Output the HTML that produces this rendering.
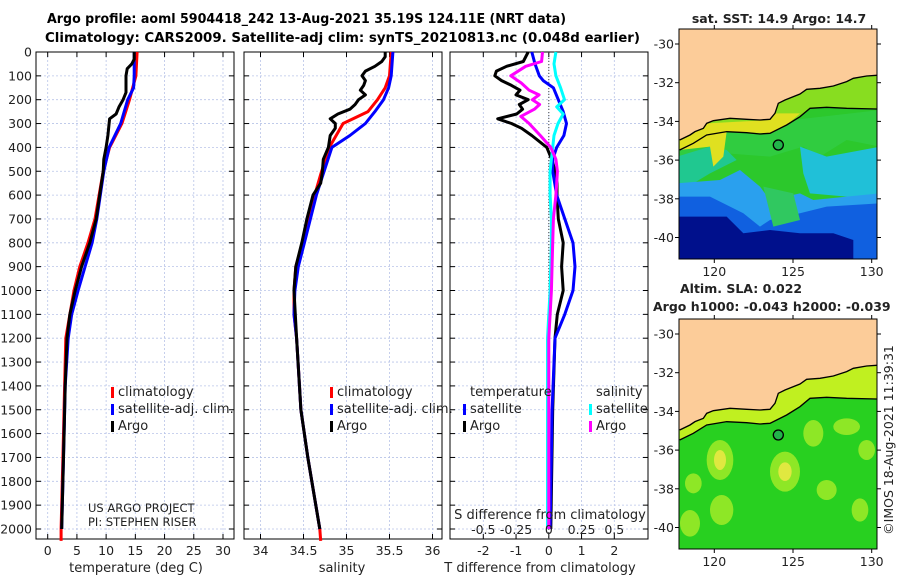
<!DOCTYPE html>
<html><head><meta charset="utf-8">
<style>
body{margin:0;background:#fff;}
svg{display:block;font-family:"DejaVu Sans","Liberation Sans",sans-serif;}
</style></head>
<body>
<svg id="fig" width="900" height="580" viewBox="0 0 900 580">
<g font-weight="bold" font-size="13" fill="#000">
<text x="47" y="23" textLength="519" lengthAdjust="spacingAndGlyphs">Argo profile: aoml 5904418_242 13-Aug-2021 35.19S 124.11E (NRT data)</text>
<text x="45" y="42" textLength="595" lengthAdjust="spacingAndGlyphs">Climatology: CARS2009. Satellite-adj clim: synTS_20210813.nc (0.048d earlier)</text>
</g>
<g id="panels"></g>
<g id="maps"></g>
</svg>
<script>
// ---------- data ----------
const depthTicks = [0,100,200,300,400,500,600,700,800,900,1000,1100,1200,1300,1400,1500,1600,1700,1800,1900,2000];
const tempTicks = [0,5,10,15,20,25,30];
const salTicks = [34,34.5,35,35.5,36];
const tdiffTicks = [-2,-1,0,1,2];
const sdiffTicks = [-0.5,-0.25,0,0.25,0.5];
const sdiffTickLabels = ["-0.5","-0.25","0","0.25","0.5"];

const climTempDepth = [0,100,200,300,400,500,600,700,800,900,1000,1100,1200,1400,1600,1800,2000,2050];
const climTemp = [15.3,15.1,14.0,12.7,10.6,9.5,8.8,8.1,6.9,5.5,4.5,3.8,3.1,2.9,2.7,2.5,2.3,2.3];
const satTempDepth = [0,100,150,200,300,400,500,600,700,800,900,1000,1100,1200,1400,1600,1800,2000];
const satTemp = [14.8,14.8,14.7,13.7,12.5,10.5,9.6,9.0,8.4,7.6,6.4,5.2,4.1,3.5,3.0,2.8,2.6,2.4];
const argoTempDepth = [0,30,50,70,100,170,200,230,260,280,300,350,400,450,500,600,700,800,900,1000,1100,1200,1400,1600,1800,2000];
const argoTemp = [14.8,14.8,14.4,13.6,13.4,13.4,12.9,12.2,11.7,10.6,10.5,10.3,10.0,9.6,9.5,8.9,8.3,7.2,5.8,4.7,3.8,3.3,3.0,2.8,2.6,2.4];

const climSalDepth = [0,100,150,200,250,300,400,500,600,700,800,900,1000,1100,1200,1500,1700,2000,2050];
const climSal = [35.52,35.50,35.45,35.36,35.25,34.96,34.80,34.71,34.63,34.56,34.49,34.41,34.39,34.39,34.42,34.47,34.55,34.69,34.70];
const satSalDepth = [0,100,150,200,250,300,350,400,500,600,700,800,900,1000,1100,1200,1500,1700,2000];
const satSal = [35.54,35.52,35.49,35.43,35.33,35.22,35.04,34.83,34.74,34.65,34.58,34.51,34.44,34.40,34.39,34.42,34.47,34.55,34.69];
const argoSalDepth = [0,20,40,60,80,100,120,140,160,180,200,220,240,260,280,300,320,350,400,450,500,550,600,700,800,900,1000,1200,1500,1700,2000];
const argoSal = [35.45,35.45,35.41,35.33,35.22,35.18,35.22,35.20,35.16,35.22,35.14,35.10,35.04,34.90,34.81,34.87,34.87,34.81,34.79,34.73,34.72,34.70,34.61,34.54,34.48,34.41,34.39,34.42,34.47,34.55,34.69];

const argoTdiffDepth = [0,40,60,80,100,120,140,160,180,200,220,240,260,280,300,320,350,400,450,500,550,600,700,800,900,1000,1100,1200,1500,2000];
const argoTdiff = [-0.63,-0.78,-1.29,-1.6,-1.65,-1.44,-1.14,-0.88,-1.0,-0.63,-0.9,-0.8,-0.98,-1.56,-1.14,-0.83,-0.52,-0.06,0.09,0.2,0.25,0.25,0.29,0.44,0.39,0.44,0.26,0.19,0.12,0.06];
const satTdiffDepth = [0,50,100,120,150,200,250,300,350,400,450,500,600,700,800,900,1000,1100,1200,1500,2000];
const satTdiff = [-0.52,-0.42,-0.29,-0.17,0.14,0.29,0.44,0.54,0.46,0.24,0.12,0.12,0.24,0.49,0.74,0.8,0.74,0.49,0.19,0.1,0.04];
const argoSdiffDepth = [0,40,60,100,130,160,180,200,220,240,270,300,350,400,450,500,550,600,700,800,1000,1200,1500,2000];
const argoSdiff = [-0.048,-0.055,-0.176,-0.29,-0.21,-0.15,-0.074,-0.125,-0.07,-0.11,-0.214,-0.15,-0.065,0.015,0.054,0.066,0.06,0.054,0.035,0.03,0.02,0.0,0.0,0.0];
const satSdiffDepth = [0,50,100,150,200,230,260,300,350,400,500,600,700,800,1000,1200,1500,2000];
const satSdiff = [0.054,0.04,0.054,0.09,0.12,0.06,0.11,0.07,0.04,0.03,0.01,0.01,0.02,0.02,0.01,-0.01,-0.01,-0.01];

// ---------- axes ----------
const NS='http://www.w3.org/2000/svg';
const TOP=52, BOT=539;
function yD(d){return TOP + d*0.2385;}
function xTemp(v){return 47.7 + v*5.843;}
function xSal(v){return 260.5 + (v-34)*86;}
function xTd(v){return 548.8 + v*32.75;}
function xSd(v){return 548.8 + v*131;}
function mk(tag,attrs,parent){const e=document.createElementNS(NS,tag);for(const k in attrs)e.setAttribute(k,attrs[k]);parent.appendChild(e);return e;}
const panels=document.getElementById('panels');

function panel(name,L,R,xs,ticks,labels,xlabel,xlabelX,showY){
  const g=mk('g',{},panels);
  
  
  ticks.forEach(t=>{const x=xs(t);const l=mk('line',{x1:x,x2:x,y1:TOP,y2:BOT,stroke:'#b8c4e8','stroke-width':0.8,'stroke-dasharray':'2,2'},g);
    
    
    mk('line',{x1:x,x2:x,y1:BOT,y2:BOT-5,stroke:'#000'},g);
    mk('line',{x1:x,x2:x,y1:TOP,y2:TOP+5,stroke:'#000'},g);
  });
  depthTicks.forEach(d=>{const y=yD(d);const l=mk('line',{x1:L,x2:R,y1:y,y2:y,stroke:'#b8c4e8','stroke-width':0.8,'stroke-dasharray':'2,2'},g);
    
    
    mk('line',{x1:L,x2:L+5,y1:y,y2:y,stroke:'#000'},g);
    mk('line',{x1:R,x2:R-5,y1:y,y2:y,stroke:'#000'},g);
    if(showY){const t=mk('text',{x:L-4,y:y+4.5,'text-anchor':'end','font-size':12.5,fill:'#222'},g);t.textContent=d;
      
      }
  });
  ticks.forEach((t,i)=>{const tx=mk('text',{x:xs(t),y:555,'text-anchor':'middle','font-size':12.5,fill:'#222'},g);tx.textContent=labels[i];
    
    });
  const xl=mk('text',{x:xlabelX,y:572,'text-anchor':'middle','font-size':13,fill:'#222'},g);xl.textContent=xlabel;
  
  
  const fr=mk('rect',{x:L,y:TOP,width:R-L,height:BOT-TOP,fill:'none',stroke:'#000','stroke-width':1},g);
  
  
  return g;
}
function line(g,name,depths,vals,xs,color){
  const pts=depths.map((d,i)=>xs(vals[i]).toFixed(1)+','+yD(d).toFixed(1)).join(' ');
  const p=mk('polyline',{points:pts,fill:'none',stroke:color,'stroke-width':3,'stroke-linejoin':'round'},g);
  
  
}
function legend(g,x,y,color,label,name){
  const r=mk('rect',{x:x,y:y-9,width:3,height:11,fill:color},g);
  
  
  const t=mk('text',{x:x+7,y:y,'font-size':13,fill:'#222'},g);t.textContent=label;
  
  
}
function txt(g,x,y,s,size,name,anchor){const t=mk('text',{x:x,y:y,'font-size':size,fill:'#222','text-anchor':anchor||'start'},g);t.textContent=s;
  
  return t;}

const p1=panel('temperature-panel',36,234,xTemp,tempTicks,tempTicks.map(String),'temperature (deg C)',136,true);
line(p1,'climatology-temp-line',climTempDepth,climTemp,xTemp,'#ff0000');
line(p1,'satellite-temp-line',satTempDepth,satTemp,xTemp,'#0000ff');
line(p1,'argo-temp-line',argoTempDepth,argoTemp,xTemp,'#000000');
legend(p1,111,396,'#ff0000','climatology','legend-climatology');
legend(p1,111,413,'#0000ff','satellite-adj. clim.','legend-satellite-adj');
legend(p1,111,430,'#000000','Argo','legend-argo');
txt(p1,88,512,'US ARGO PROJECT',11.5,'project-label');
txt(p1,88,526,'PI: STEPHEN RISER',11.5,'pi-label');

const p2=panel('salinity-panel',244,442,xSal,salTicks,["34","34.5","35","35.5","36"],'salinity',342,false);
line(p2,'climatology-sal-line',climSalDepth,climSal,xSal,'#ff0000');
line(p2,'satellite-sal-line',satSalDepth,satSal,xSal,'#0000ff');
line(p2,'argo-sal-line',argoSalDepth,argoSal,xSal,'#000000');
legend(p2,330,396,'#ff0000','climatology','legend-climatology-2');
legend(p2,330,413,'#0000ff','satellite-adj. clim.','legend-satellite-adj-2');
legend(p2,330,430,'#000000','Argo','legend-argo-2');

const p3=panel('difference-panel',450,648,xTd,tdiffTicks,tdiffTicks.map(String),'T difference from climatology',540,false);
const zl=mk('line',{x1:xTd(0),x2:xTd(0),y1:TOP,y2:BOT,stroke:'#444','stroke-width':1,'stroke-dasharray':'1,2'},p3);


line(p3,'argo-tdiff-line',argoTdiffDepth,argoTdiff,xTd,'#000000');
line(p3,'satellite-tdiff-line',satTdiffDepth,satTdiff,xTd,'#0000ff');
line(p3,'satellite-sdiff-line',satSdiffDepth,satSdiff,xSd,'#00ffff');
line(p3,'argo-sdiff-line',argoSdiffDepth,argoSdiff,xSd,'#ff00ff');
txt(p3,470,396,'temperature',13,'legend-temperature-heading');
legend(p3,463,413,'#0000ff','satellite','legend-temp-satellite');
legend(p3,463,430,'#000000','Argo','legend-temp-argo');
txt(p3,596,396,'salinity',13,'legend-salinity-heading');
legend(p3,589,413,'#00ffff','satellite','legend-sal-satellite');
legend(p3,589,430,'#ff00ff','Argo','legend-sal-argo');
txt(p3,550,519,'S difference from climatology',13,'s-axis-title','middle');
sdiffTicks.forEach((v,i)=>txt(p3,xSd(v),534,sdiffTickLabels[i],12.5,'s-tick-label','middle'));

// ---------- maps ----------
const maps=document.getElementById('maps');
const coast="59,420 90,405 105,395 130,385 140,370 160,362 210,355 260,358 300,360 330,358 345,340 355,310 375,300 420,282 440,268 480,265 520,258 560,245 580,235 620,228 650,226";
const shelf="59,450 100,430 140,405 200,395 260,398 300,402 330,400 380,375 420,350 450,325 500,322 560,325 650,327";
const shelfBand='M'+coast.split(' ').join(' L')+' L'+shelf.split(' ').reverse().join(' L')+'Z';
const mapLats=[-30,-32,-34,-36,-38,-40];
const mapLons=[120,125,130];
function mapPanel(name,top,kind){
  const g=mk('g',{},maps);
  
  
  const L=679,R=877,B=top+230;
  const cl=mk('clipPath',{id:'clip'+kind},g);
  mk('rect',{x:L,y:top,width:R-L,height:B-top},cl);
  const inner=mk('g',{'clip-path':'url(#clip'+kind+')'},g);
  const z=mk('g',{transform:'translate(660,'+(top-29)+') scale(0.3333)'},inner);
  if(kind==='sst'){
    mk('rect',{x:0,y:0,width:720,height:900,fill:'#2cc82c'},z);
    mk('path',{d:'M50,400 L660,330 L660,440 L560,420 L480,470 L430,440 L330,470 L200,460 L150,500 L50,480Z',fill:'#30cc40'},z);
    mk('path',{d:'M50,470 L150,440 L200,450 L230,480 L150,520 L100,550 L50,550Z',fill:'#20c890'},z);
    mk('path',{d:'M420,440 L500,470 L660,440 L660,600 L560,590 L450,580 L430,520Z',fill:'#20c0d8'},z);
    mk('path',{d:'M50,550 L180,540 L240,510 L300,560 L330,600 L420,580 L460,600 L560,590 L660,580 L660,900 L50,900Z',fill:'#2aa0ee'},z);
    mk('path',{d:'M50,590 L150,590 L250,640 L300,680 L330,660 L420,640 L500,620 L660,610 L660,900 L50,900Z',fill:'#1060e0'},z);
    mk('path',{d:'M310,560 L400,580 L420,660 L340,680Z',fill:'#30c860'},z);
    mk('path',{d:'M50,650 L200,650 L250,700 L330,690 L420,700 L520,700 L580,720 L580,780 L50,780Z',fill:'#00108c'},z);
    mk('path',{d:shelfBand,fill:'#88dd20'},z);
    mk('path',{d:'M59,420 L140,370 L330,360 L345,340 L420,340 L380,375 L330,400 L200,395 L190,470 L160,500 L150,440 L59,450Z',fill:'#e0e020'},z);
  } else {
    mk('rect',{x:0,y:0,width:720,height:900,fill:'#28d020'},z);
    [[180,510,40,60],[375,545,45,60],[185,660,35,45],[460,430,30,40],[560,410,40,25],[90,700,30,40],[500,600,30,30],[600,660,25,35],[100,580,25,30],[620,480,25,30]].forEach(b=>{
      mk('ellipse',{cx:b[0],cy:b[1],rx:b[2],ry:b[3],fill:'#a8ec28',opacity:0.8},z);});
    [[180,510,18,30],[375,545,20,28]].forEach(b=>mk('ellipse',{cx:b[0],cy:b[1],rx:b[2],ry:b[3],fill:'#e0e840'},z));
    mk('path',{d:shelfBand,fill:'#c0f020'},z);
  }
  mk('polygon',{points:'0,0 720,0 720,226 650,226 '+coast.split(' ').reverse().join(' ')+' 0,420',fill:'#fccc99'},z);
  const c1=mk('polyline',{points:coast,fill:'none',stroke:'#000','stroke-width':4},z);
  
  
  const c2=mk('polyline',{points:shelf,fill:'none',stroke:'#000','stroke-width':4},z);
  
  
  const ci=mk('circle',{cx:355,cy:435,r:15,fill:'#22b44a',stroke:'#000','stroke-width':4},z);
  
  
  mk('rect',{x:L,y:top,width:R-L,height:B-top,fill:'none',stroke:'#000','stroke-width':1},g);
  mapLats.forEach(la=>{const y=top+15+(-30-la)*19.35;
    mk('line',{x1:L,x2:L-4,y1:y,y2:y,stroke:'#000'},g);
    mk('line',{x1:R,x2:R+4,y1:y,y2:y,stroke:'#000'},g);
    txt(g,674,y+4.5,String(la),12.5,'lat-tick-label','end');});
  mapLons.forEach(lo=>{const x=714.3+(lo-120)*15.74;
    mk('line',{x1:x,x2:x,y1:B,y2:B+4,stroke:'#000'},g);
    mk('line',{x1:x,x2:x,y1:top,y2:top-4,stroke:'#000'},g);
    txt(g,x,B+17,String(lo),12.5,'lon-tick-label','middle');});
}
mapPanel('sst-map',29,'sst');
mapPanel('sla-map',319,'sla');
const mt=document.createElementNS(NS,'g');maps.appendChild(mt);
mt.setAttribute('font-weight','bold');
txt(mt,779,23,'sat. SST: 14.9 Argo: 14.7',12.5,'sst-map-title','middle');
txt(mt,680,293,'Altim. SLA: 0.022',12.5,'sla-map-title');
txt(mt,653,311,'Argo h1000: -0.043 h2000: -0.039',12.5,'sla-map-subtitle');
const ts=txt(maps,893,440,'©IMOS 18-Aug-2021 11:39:31',12.5,'timestamp-label','middle');
ts.setAttribute('transform','rotate(-90 893 440)');
</script>
</body></html>
